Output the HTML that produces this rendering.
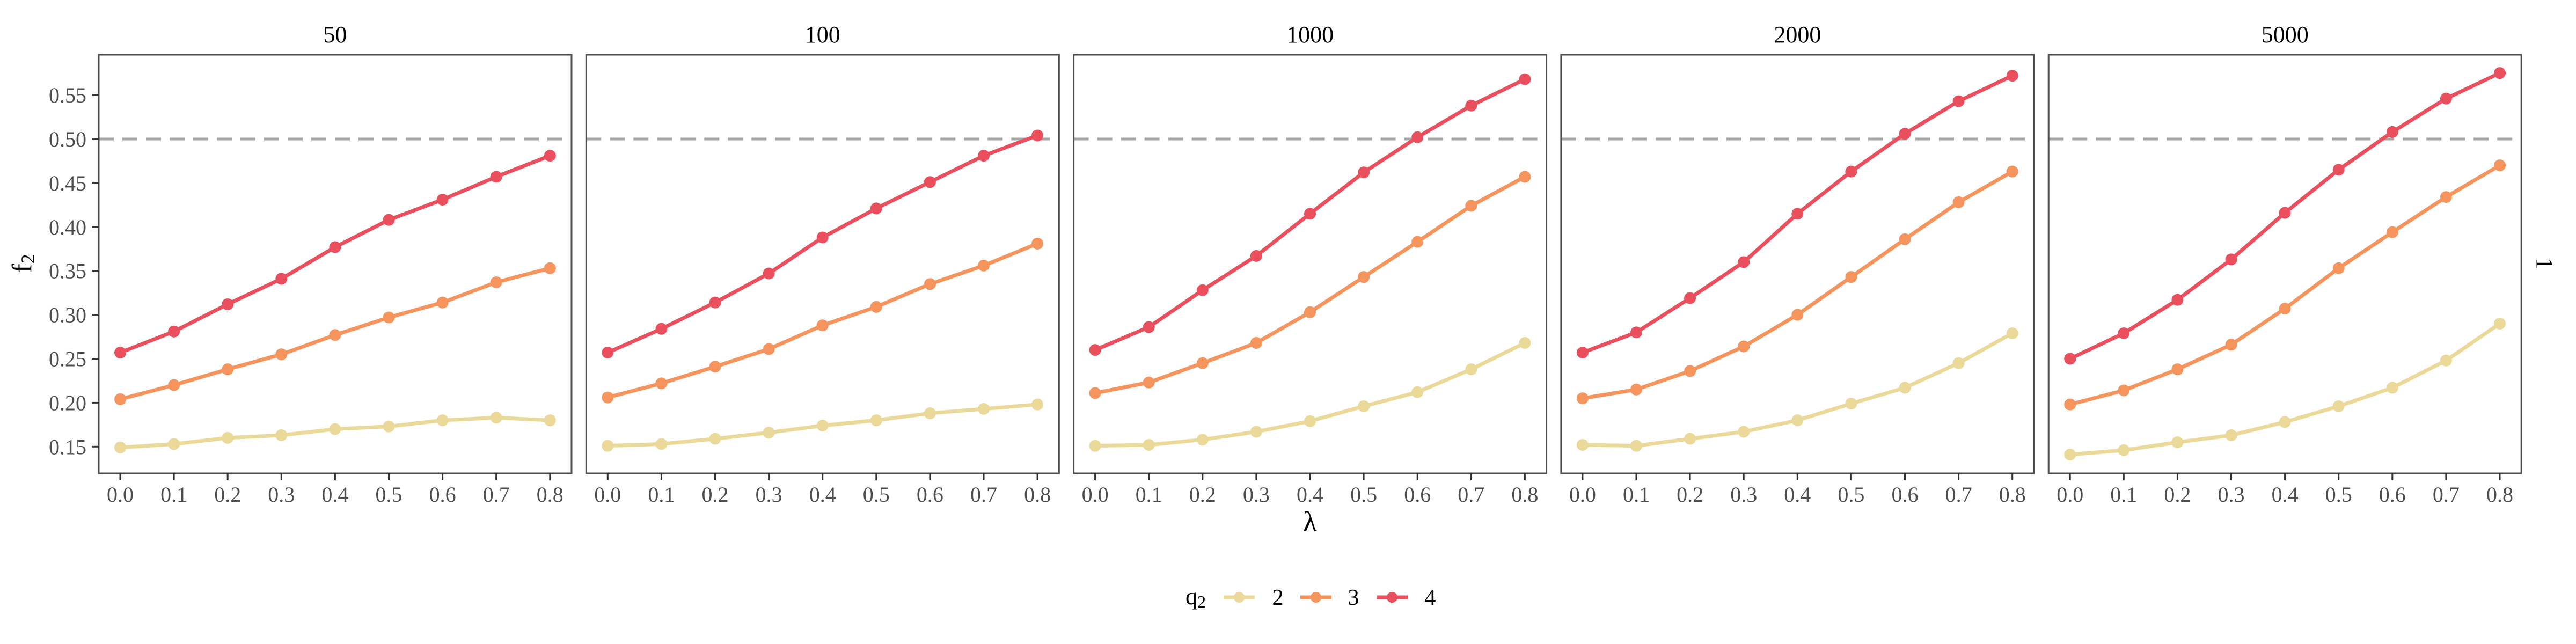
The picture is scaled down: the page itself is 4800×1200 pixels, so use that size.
<!DOCTYPE html>
<html><head><meta charset="utf-8"><style>
html,body{margin:0;padding:0;background:#fff;}
svg{display:block;font-family:"Liberation Serif",serif;}
</style></head><body>
<svg id="chart" width="4800" height="1200" viewBox="0 0 4800 1200" xmlns="http://www.w3.org/2000/svg">
<rect x="0" y="0" width="4800" height="1200" fill="#fff"/>
<g id="panels"></g>
<text x="46" y="491" font-size="52" text-anchor="middle" dominant-baseline="middle" transform="rotate(-90 46 491)">f<tspan font-size="36" dy="10">2</tspan></text>
<text x="2441" y="990" font-size="54" text-anchor="middle">λ</text>
<text x="4737" y="491" font-size="44" text-anchor="middle" dominant-baseline="middle" transform="rotate(90 4737 491)">1</text>
<g>
<text x="2228" y="1126" font-size="44" text-anchor="middle">q<tspan font-size="32" dy="6">2</tspan></text>
<g id="legend-keys"></g>
</g>
</svg>
<script>
const facets = ["50","100","1000","2000","5000"];
const lambdas = [0,0.1,0.2,0.3,0.4,0.5,0.6,0.7,0.8];
const xTicks = ["0.0","0.1","0.2","0.3","0.4","0.5","0.6","0.7","0.8"];
const yTicks = [0.15,0.20,0.25,0.30,0.35,0.40,0.45,0.50,0.55];
const yTickLabels = ["0.15","0.20","0.25","0.30","0.35","0.40","0.45","0.50","0.55"];
const groups = ["2","3","4"];
const colors = ["#EBD999","#F5945C","#EA4F5E"];
const q2_50 = [0.149,0.153,0.160,0.163,0.170,0.173,0.180,0.183,0.180];
const q3_50 = [0.204,0.220,0.238,0.255,0.277,0.297,0.314,0.337,0.353];
const q4_50 = [0.257,0.281,0.312,0.341,0.377,0.408,0.431,0.457,0.481];
const q2_100 = [0.151,0.153,0.159,0.166,0.174,0.180,0.188,0.193,0.198];
const q3_100 = [0.206,0.222,0.241,0.261,0.288,0.309,0.335,0.356,0.381];
const q4_100 = [0.257,0.284,0.314,0.347,0.388,0.421,0.451,0.481,0.504];
const q2_1000 = [0.151,0.152,0.158,0.167,0.179,0.196,0.212,0.238,0.268];
const q3_1000 = [0.211,0.223,0.245,0.268,0.303,0.343,0.383,0.424,0.457];
const q4_1000 = [0.260,0.286,0.328,0.367,0.415,0.462,0.502,0.538,0.568];
const q2_2000 = [0.152,0.151,0.159,0.167,0.180,0.199,0.217,0.245,0.279];
const q3_2000 = [0.205,0.215,0.236,0.264,0.300,0.343,0.386,0.428,0.463];
const q4_2000 = [0.257,0.280,0.319,0.360,0.415,0.463,0.506,0.543,0.572];
const q2_5000 = [0.141,0.146,0.155,0.163,0.178,0.196,0.217,0.248,0.290];
const q3_5000 = [0.198,0.214,0.238,0.266,0.307,0.353,0.394,0.434,0.470];
const q4_5000 = [0.250,0.279,0.317,0.363,0.416,0.465,0.508,0.546,0.575];
const hline = 0.5;
const series = [[q2_50,q3_50,q4_50],[q2_100,q3_100,q4_100],[q2_1000,q3_1000,q4_1000],[q2_2000,q3_2000,q4_2000],[q2_5000,q3_5000,q4_5000]];

const NS="http://www.w3.org/2000/svg";
const PW=881, PT=102, PB=882;
function px0(i){return 184+i*908.3;}
function xs(i,v){return px0(i)+40+v*1001;}
function ys(v){return 259+(0.5-v)*1638;}
function mk(tag,attrs,parent){const e=document.createElementNS(NS,tag);for(const k in attrs)e.setAttribute(k,attrs[k]);parent.appendChild(e);return e;}
const root=document.getElementById('panels');
facets.forEach((f,i)=>{
  const g=mk('g',{},root);
  
  
  const t=mk('text',{x:px0(i)+PW/2,y:79,'font-size':44,'text-anchor':'middle'},g);
  t.textContent=f;
  
  
  const hl=mk('line',{x1:px0(i),x2:px0(i)+PW,y1:ys(hline),y2:ys(hline),stroke:'#a6a6a6','stroke-width':5,'stroke-dasharray':'28 16'},g);
  
  
  series[i].forEach((vals,s)=>{
    const pts=vals.map((v,k)=>xs(i,lambdas[k])+','+ys(v)).join(' ');
    const pl=mk('polyline',{points:pts,fill:'none',stroke:colors[s],'stroke-width':7,'stroke-linejoin':'round'},g);
    
    
    vals.forEach((v,k)=>{
      const c=mk('circle',{cx:xs(i,lambdas[k]),cy:ys(v),r:11,fill:colors[s]},g);
      
      
    });
  });
  const b=mk('rect',{x:px0(i),y:PT,width:PW,height:PB-PT,fill:'none',stroke:'#4d4d4d','stroke-width':3},g);
  
  
  lambdas.forEach((l,k)=>{
    const tk=mk('line',{x1:xs(i,l),x2:xs(i,l),y1:PB,y2:PB+13,stroke:'#333','stroke-width':3},g);
    
    
    const tl=mk('text',{x:xs(i,l),y:935,'font-size':40,'text-anchor':'middle',fill:'#4d4d4d'},g);
    tl.textContent=xTicks[k];
    
    
  });
});
yTicks.forEach((v,k)=>{
  const tk=mk('line',{x1:171,x2:184,y1:ys(v),y2:ys(v),stroke:'#333','stroke-width':3},root);
  
  
  const tl=mk('text',{x:161,y:ys(v)+14,'font-size':40,'text-anchor':'end',fill:'#4d4d4d'},root);
  tl.textContent=yTickLabels[k];
  
  
});
const lk=document.getElementById('legend-keys');
const keyX=[2309,2452,2594];
const labX=[2381,2522,2665];
groups.forEach((gname,s)=>{
  const g=mk('g',{},lk);
  
  
  mk('line',{x1:keyX[s]-29,x2:keyX[s]+29,y1:1113,y2:1113,stroke:colors[s],'stroke-width':7},g);
  mk('circle',{cx:keyX[s],cy:1113,r:10,fill:colors[s]},g);
  const t=mk('text',{x:labX[s],y:1127,'font-size':42,'text-anchor':'middle'},g);
  t.textContent=gname;
});
</script>
</body></html>
